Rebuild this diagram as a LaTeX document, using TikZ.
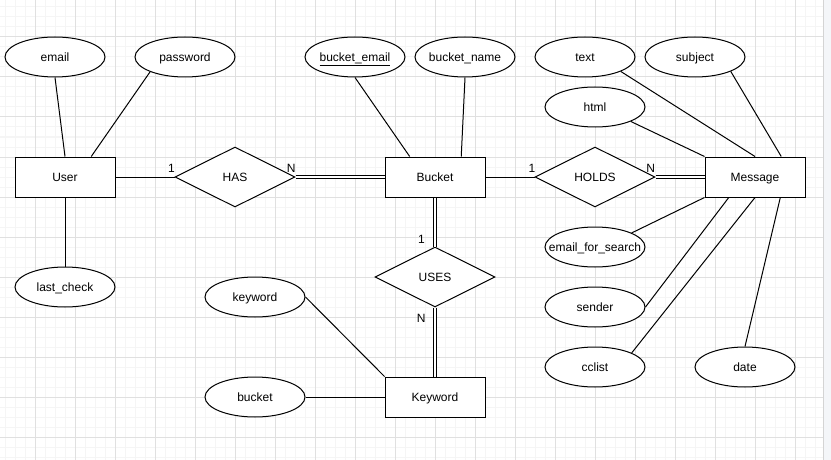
\documentclass[tikz,border=0pt]{standalone}
\usepackage{fontspec}
\setmainfont{Liberation Sans}
\usetikzlibrary{shapes.geometric,calc}
\definecolor{gridmajor}{RGB}{224,224,224}
\definecolor{gridminor}{RGB}{245,245,245}
\definecolor{sidebar}{RGB}{244,246,249}
\definecolor{sideline}{RGB}{212,212,212}
% attribute labels take no width, so every ellipse keeps its set size
\newcommand{\attrtext}[1]{\makebox[0pt]{#1}}
\begin{document}
\begin{tikzpicture}[x=1pt,y=-1pt,
  every node/.style={font=\fontsize{12pt}{14pt}\selectfont},
  shapetext/.style={text height=8.6pt,text depth=0pt},
  entity/.style={shapetext,draw,line width=1pt,fill=white,rectangle,minimum width=100pt,minimum height=40pt,inner sep=0pt},
  attr/.style={shapetext,draw,line width=1pt,fill=white,ellipse,minimum width=100pt,minimum height=40pt,inner sep=0pt},
  rel/.style={shapetext,draw,line width=1pt,fill=white,diamond,minimum width=120pt,minimum height=60pt,inner sep=0pt},
  link/.style={line width=1pt},
  dlink/.style={line width=1pt,double,double distance=2pt},
  card/.style={anchor=base,inner sep=0pt}]
% canvas and grid
\useasboundingbox (0,0) rectangle (831,460);
\fill[white] (0,0) rectangle (831,460);
\foreach \i in {0,...,81}{
  \draw[gridminor,line width=1pt] ({5.7+10*\i},0) -- ++(0,460);}
\foreach \i in {0,...,45}{
  \draw[gridminor,line width=1pt] (0,{7+10*\i}) -- ++(823,0);}
\foreach \i in {0,...,19}{
  \draw[gridmajor,line width=1pt] ({35.7+40*\i},0) -- ++(0,460);}
\foreach \i in {0,...,10}{
  \draw[gridmajor,line width=1pt] (0,{37+40*\i}) -- ++(823,0);}
\fill[sidebar] (823.5,0) rectangle (831,460);
\draw[sideline,line width=1pt] (823.5,0) -- (823.5,460);

% entities
\node[entity] (User) at (65,177) {User};
\node[entity] (Bucket) at (435,177) {Bucket};
\node[entity] (Message) at (755,177) {Message};
\node[entity] (Keyword) at (435,397) {Keyword};

% relationships
\node[rel] (HAS) at (235,177) {HAS};
\node[rel] (HOLDS) at (595,177) {HOLDS};
\node[rel] (USES) at (435,277) {USES};

% attributes
\node[attr] (email) at (55,57) {\attrtext{email}};
\node[attr] (password) at (185,57) {\attrtext{password}};
\node[attr] (lastcheck) at (65,287) {\attrtext{last\_check}};
\node[attr] (bemail) at (355,57) {\attrtext{\underline{bucket\_email}}};
\node[attr] (bname) at (465,57) {\attrtext{bucket\_name}};
\node[attr] (text) at (585,57) {\attrtext{text}};
\node[attr] (subject) at (695,57) {\attrtext{subject}};
\node[attr] (html) at (595,107) {\attrtext{html}};
\node[attr] (efs) at (595,247) {\attrtext{email\_for\_search}};
\node[attr] (sender) at (595,307) {\attrtext{sender}};
\node[attr] (cclist) at (595,367) {\attrtext{cclist}};
\node[attr] (date) at (745,367) {\attrtext{date}};
\node[attr] (kw) at (255,297) {\attrtext{keyword}};
\node[attr] (bk) at (255,397) {\attrtext{bucket}};

% attribute links
\draw[link] (email.south) -- (User.north);
\draw[link] (password.203.2) -- (User.38.7);
\draw[link] (User.south) -- (lastcheck.north);
\draw[link] (bemail.south) -- (Bucket.141.3);
\draw[link] (bname.south) -- (Bucket.38.7);
\draw[link] (text.338.2) -- (Message.north);
\draw[link] (subject.338.2) -- (Message.38.7);
\draw[link] (html.338.5) -- (Message.north west);
\draw[link] (efs.21.5) -- (Message.south west);
\draw[link] (sender.east) -- (Message.218.7);
\draw[link] (cclist.21.8) -- (Message.south);
\draw[link] (date.north) -- (Message.321.3);
\draw[link] (kw.east) -- (Keyword.north west);
\draw[link] (bk.east) -- (Keyword.west);

% relationship links
\draw[link] (User.east) -- (HAS.west);
\draw[dlink] (HAS.east) -- (Bucket.west);
\draw[link] (Bucket.east) -- (HOLDS.west);
\draw[dlink] (HOLDS.east) -- (Message.west);
\draw[dlink] (Bucket.south) -- (USES.north);
\draw[dlink] (USES.south) -- (Keyword.north);

% cardinalities
\node[card] (c1) at (171.5,172.5) {1};
\node[card] (c2) at (291.2,172.5) {N};
\node[card] (c3) at (532,172.5) {1};
\node[card] (c4) at (650.7,172.5) {N};
\node[card] (c5) at (421.5,243.3) {1};
\node[card] (c6) at (421.3,322.3) {N};
\end{tikzpicture}
\end{document}
